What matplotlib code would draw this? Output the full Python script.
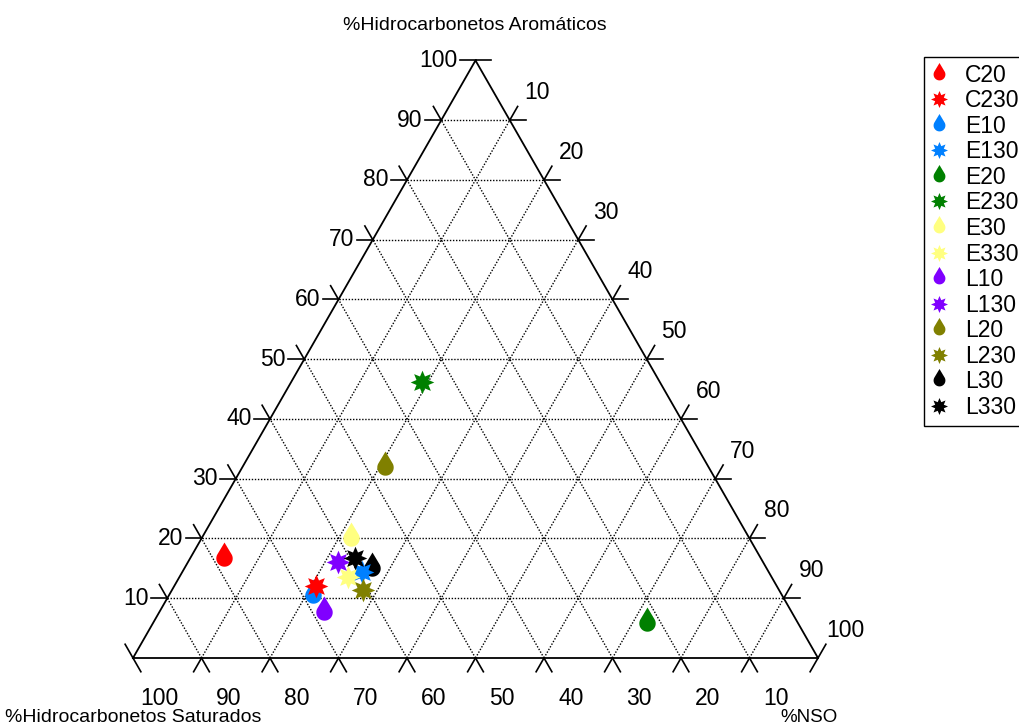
import numpy as np
import matplotlib.pyplot as plt
from matplotlib.path import Path
from matplotlib.lines import Line2D

plt.rcParams['font.family'] = ['Liberation Sans', 'DejaVu Sans']

# dados (% saturados, % aromaticos, % NSO)
amostras = ['C20', 'C230', 'E10', 'E130', 'E20', 'E230', 'E30', 'E330',
            'L10', 'L130', 'L20', 'L230', 'L30', 'L330']
saturados = [78.4, 67.3, 68.5, 59.4, 22.0, 34.7, 58.1, 61.9, 68.3, 62.0, 47.2, 60.7, 57.5, 59.3]
aromaticos = [16.7, 12.0, 10.5, 14.4, 5.9, 46.2, 20.1, 13.5, 7.7, 16.1, 31.9, 11.4, 15.1, 16.7]
nso = [4.9, 20.7, 21.0, 26.2, 72.1, 19.1, 21.8, 24.6, 24.0, 21.9, 20.9, 27.9, 27.4, 24.0]
valores_eixo = list(range(10, 101, 10))

cores = ['#FF0000', '#FF0000', '#0080FF', '#0080FF', '#008000', '#008000',
         '#FFFF80', '#FFFF80', '#8000FF', '#8000FF', '#808000', '#808000',
         '#000000', '#000000']

# marcador gota (ponta para cima)
r = 0.72
ang = np.arccos(r / 1.4)
th = np.linspace(np.pi / 2 + ang, np.pi / 2 - ang + 2 * np.pi, 40)
v_gota = np.column_stack([r * np.cos(th), r * np.sin(th)])
v_gota = np.vstack([[0, 1.4], v_gota, [0, 1.4]])
gota = Path(v_gota, closed=True)

# marcador estrela de 8 pontas
k = np.arange(16)
raio = np.where(k % 2 == 0, 1.0, 0.55)
a_est = np.pi / 2 + k * np.pi / 8
v_est = np.column_stack([raio * np.cos(a_est), raio * np.sin(a_est)])
estrela = Path(np.vstack([v_est, v_est[:1]]), closed=True)

marcadores = [gota if i % 2 == 0 else estrela for i in range(len(amostras))]
tam = [23 if i % 2 == 0 else 17 for i in range(len(amostras))]

h = np.sqrt(3) / 2


def ternario(a, n):
    a = np.asarray(a) / 100
    n = np.asarray(n) / 100
    return n + a / 2, a * h


fig = plt.figure(figsize=(10.2, 7.26), dpi=100)
ax = fig.add_axes([0, 0, 1, 1])
ax.set_xlim(-133 / 685, (1020 - 133) / 685)
ax.set_ylim((658 - 726) / 690, 658 / 690)
ax.axis('off')

# grade pontilhada
grade = dict(color='k', ls=(0, (1, 1.2)), lw=1.0)
for v in valores_eixo[:-1]:
    t = v / 100
    ax.plot([t / 2, 1 - t / 2], [t * h, t * h], **grade)
    ax.plot([1 - t, (1 - t) / 2], [0, (1 - t) * h], **grade)
    ax.plot([t, (1 + t) / 2], [0, (1 - t) * h], **grade)

# triangulo
ax.plot([0, 1, 0.5, 0], [0, 0, h, 0], color='k', lw=1.3)

# marcas dos eixos
L = 0.023
dirs = {'esq': (-1, 0), 'dir': (1, 0), 'ne': (0.5, h), 'so': (-0.5, -h),
        'se': (0.5, -h), 'no': (-0.5, h)}


def marca(x, y, d):
    dx, dy = dirs[d]
    ax.plot([x, x + L * dx], [y, y + L * dy], color='k', lw=1.2)


for v in valores_eixo:
    t = v / 100
    marca(t / 2, t * h, 'esq')
    marca((1 - t) / 2, (1 - t) * h, 'no')
    marca(1 - t, 0, 'se')
    marca(t, 0, 'so')
    marca((1 + t) / 2, (1 - t) * h, 'ne')
    marca(1 - t / 2, t * h, 'dir')
    ax.text(t / 2 - 0.027, t * h, str(v), ha='right', va='center', fontsize=16.5)
    ax.text(1 - t + 0.039, -0.058, str(v), ha='center', va='center', fontsize=16.5)
    ax.text((1 + t) / 2 + 0.04, (1 - t) * h + 0.04, str(v), ha='center', va='center', fontsize=16.5)

ax.text((475 - 133) / 685, (658 - 25) / 690, '%Hidrocarbonetos Aromáticos',
        ha='center', va='center', fontsize=14)
ax.text((5 - 133) / 685, (658 - 717) / 690, '%Hidrocarbonetos Saturados',
        ha='left', va='center', fontsize=14)
ax.text((809 - 133) / 685, (658 - 717) / 690, '%NSO',
        ha='center', va='center', fontsize=13.5)

# pontos: gotas primeiro, estrelas por cima
xs, ys = ternario(aromaticos, nso)
ordem = [i for i in range(len(amostras)) if i % 2 == 0] + \
        [i for i in range(len(amostras)) if i % 2 == 1]
for i in ordem:
    ax.plot(xs[i], ys[i], ls='none', marker=marcadores[i], ms=tam[i],
            color=cores[i], mec='none', zorder=5)

alcas = [Line2D([], [], ls='none', marker=marcadores[i], ms=tam[i] * 0.72,
                color=cores[i], mec='none') for i in range(len(amostras))]
leg = fig.legend(alcas, amostras, loc='upper left',
                 bbox_to_anchor=(924 / 1020, 1 - 57 / 726), borderaxespad=0,
                 fontsize=16.5, labelspacing=0.11, handlelength=0.7,
                 handletextpad=0.8, borderpad=0.3, fancybox=False,
                 framealpha=1, edgecolor='k')
leg.get_frame().set_linewidth(1.0)

fig.savefig('out.png', dpi=100)
